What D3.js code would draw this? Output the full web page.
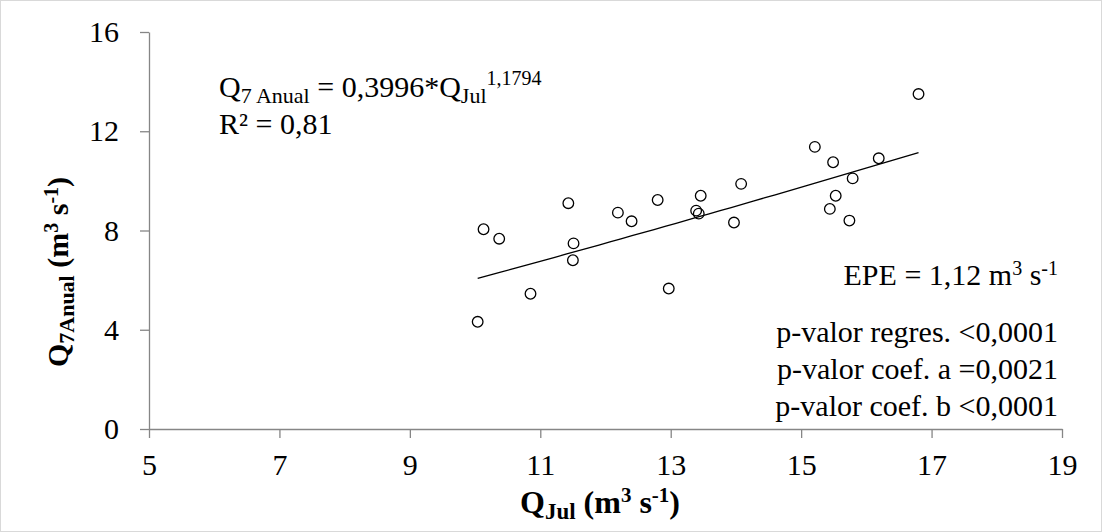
<!DOCTYPE html>
<html>
<head>
<meta charset="utf-8">
<script src="https://cdn.jsdelivr.net/npm/d3@7"></script>
<style>
  body { margin: 0; background: #fff; }
  svg text { fill: #000; }
</style>
</head>
<body>
<script>
var qJul = [10.04, 10.13, 10.37, 10.85, 11.43, 11.50, 11.51, 12.19, 12.40, 12.80,
            12.97, 13.39, 13.43, 13.46, 13.97, 14.08, 15.21, 15.44, 15.49, 15.53,
            15.74, 15.79, 16.19, 16.80]
var q7Anual = [4.32, 8.05, 7.67, 5.45, 9.10, 6.80, 7.48, 8.72, 8.37, 9.23,
               5.66, 8.80, 8.68, 9.40, 8.32, 9.88, 11.37, 8.87, 10.75, 9.40,
               8.40, 10.10, 10.91, 13.50]
var xTicks = [5, 7, 9, 11, 13, 15, 17, 19]
var yTicks = [0, 4, 8, 12, 16]
// power regression shown on the chart
var coefA = 0.3996, coefB = 1.1794
var statLines = ['p-valor regres. <0,0001', 'p-valor coef. a =0,0021', 'p-valor coef. b <0,0001']

var width = 1102, height = 532
var fs = 30, sub = 22, sup = 20
var font = "'Liberation Serif', 'DejaVu Serif', serif"

var svg = d3.select('body').append('svg')
    .attr('width', width)
    .attr('height', height)
    .style('font-family', font)

svg.append('rect')
    .attr('x', 0.5).attr('y', 0.5)
    .attr('width', width - 1).attr('height', height - 1)
    .attr('fill', '#fff')
    .attr('stroke', '#d9d9d9')

var x = d3.scaleLinear().domain([5, 19]).range([149, 1062])
var y = d3.scaleLinear().domain([0, 16]).range([429, 32])

var xAxis = svg.append('g')
    .attr('transform', 'translate(0,' + y(0) + ')')
    .call(d3.axisBottom(x).tickValues(xTicks).tickSize(9).tickSizeOuter(0).tickPadding(16))
var yAxis = svg.append('g')
    .attr('transform', 'translate(' + x(5) + ',0)')
    .call(d3.axisLeft(y).tickValues(yTicks).tickSize(9).tickSizeOuter(0).tickPadding(21))

;[xAxis, yAxis].forEach(function (g) {
    g.attr('font-family', null).attr('font-size', null)
    g.selectAll('path, line').attr('stroke', '#868686').attr('stroke-width', 1.3)
    g.selectAll('text')
        .style('font-family', font)
        .style('font-size', fs + 'px')
        .attr('fill', '#000')
})

// trend line
var pts = d3.range(0, 41).map(function (i) {
    var xv = d3.min(qJul) + (d3.max(qJul) - d3.min(qJul)) * i / 40
    return [xv, coefA * Math.pow(xv, coefB)]
})
svg.append('path')
    .datum(pts)
    .attr('fill', 'none')
    .attr('stroke', '#000')
    .attr('stroke-width', 1.3)
    .attr('d', d3.line().x(function (d) { return x(d[0]) }).y(function (d) { return y(d[1]) }))

// points
svg.append('g').selectAll('circle')
    .data(qJul)
    .enter().append('circle')
    .attr('cx', function (d) { return x(d) })
    .attr('cy', function (d, i) { return y(q7Anual[i]) })
    .attr('r', 5.3)
    .attr('fill', 'none')
    .attr('stroke', '#000')
    .attr('stroke-width', 1.3)

// equation
var eq = svg.append('text').attr('x', 219).attr('y', 97).style('font-size', fs + 'px')
eq.append('tspan').text('Q')
eq.append('tspan').attr('dy', 6).style('font-size', sub + 'px').text('7 Anual')
eq.append('tspan').attr('dy', -6).text(' = 0,3996*Q')
eq.append('tspan').attr('dy', 6).style('font-size', sub + 'px').text('Jul')
eq.append('tspan').attr('dy', -18).style('font-size', sup + 'px').text('1,1794')
svg.append('text').attr('x', 219).attr('y', 134).style('font-size', fs + 'px').text('R² = 0,81')

// EPE + p-values
var epe = svg.append('text').attr('x', 1058).attr('y', 285)
    .attr('text-anchor', 'end').style('font-size', fs + 'px')
epe.append('tspan').text('EPE = 1,12 m')
epe.append('tspan').attr('dy', -10).style('font-size', sup + 'px').text('3')
epe.append('tspan').attr('dy', 10).text(' s')
epe.append('tspan').attr('dy', -10).style('font-size', sup + 'px').text('-1')

svg.append('g').selectAll('text')
    .data(statLines)
    .enter().append('text')
    .attr('x', 1058)
    .attr('y', function (d, i) { return 342 + i * 37 })
    .attr('text-anchor', 'end')
    .style('font-size', fs + 'px')
    .text(function (d) { return d })

// axis titles
var xt = svg.append('text').attr('x', 600).attr('y', 513)
    .attr('text-anchor', 'middle').style('font-size', '32px').style('font-weight', 'bold')
xt.append('tspan').text('Q')
xt.append('tspan').attr('dy', 6).style('font-size', '23px').text('Jul')
xt.append('tspan').attr('dy', -6).text(' (m')
xt.append('tspan').attr('dy', -11).style('font-size', '21px').text('3')
xt.append('tspan').attr('dy', 11).text(' s')
xt.append('tspan').attr('dy', -11).style('font-size', '21px').text('-1')
xt.append('tspan').attr('dy', 11).text(')')

var yt = svg.append('text')
    .attr('transform', 'translate(68,272) rotate(-90)')
    .attr('text-anchor', 'middle').style('font-size', fs + 'px').style('font-weight', 'bold')
yt.append('tspan').text('Q')
yt.append('tspan').attr('dy', 6).style('font-size', sub + 'px').text('7Anual')
yt.append('tspan').attr('dy', -6).text(' (m')
yt.append('tspan').attr('dy', -10).style('font-size', sup + 'px').text('3')
yt.append('tspan').attr('dy', 10).text(' s')
yt.append('tspan').attr('dy', -10).style('font-size', sup + 'px').text('-1')
yt.append('tspan').attr('dy', 10).text(')')
</script>
</body>
</html>
